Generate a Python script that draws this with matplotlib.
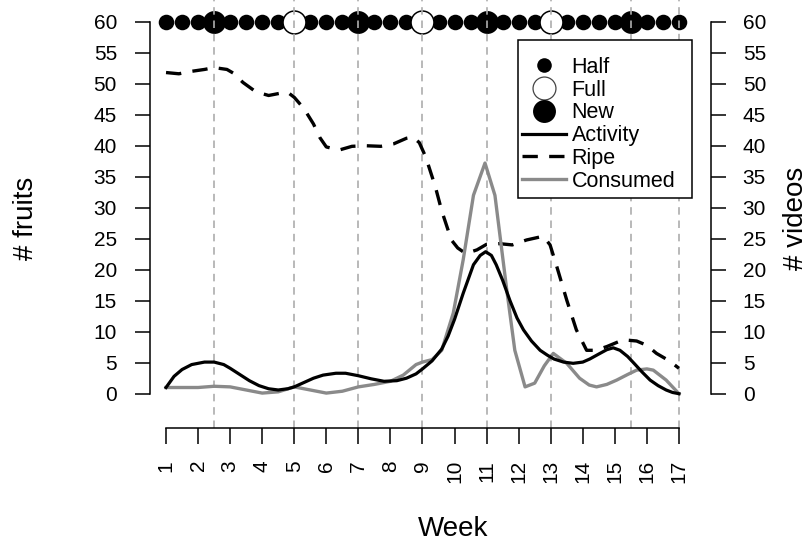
import matplotlib
matplotlib.use("Agg")
import matplotlib.pyplot as plt
from matplotlib.lines import Line2D
from matplotlib.patches import Rectangle

plt.rcParams['font.family'] = ['Liberation Sans', 'DejaVu Sans']

# ---------------- data ----------------
week_ticks = list(range(1, 18))
week_labels = [str(w) for w in week_ticks]
y_ticks = list(range(0, 61, 5))

# moon phases (drawn along the top at y = 60)
half_x = [1, 1.5, 2, 3, 3.5, 4, 4.5, 5.5, 6, 6.5, 7.5, 8, 8.5, 9.5, 10, 10.5,
          11.5, 12, 12.5, 13.5, 14, 14.5, 15, 16, 16.5, 17]
full_x = [5, 9, 13]
new_x = [2.5, 7, 11, 15.5]
moon_y = 60
phase_lines_x = [2.5, 5, 7, 9, 11, 13, 15.5, 17]

activity_x = [1.0, 1.25, 1.5, 1.8, 2.2, 2.5, 2.8, 3.0, 3.3, 3.6, 3.9, 4.2, 4.5, 4.8,
              5.0, 5.3, 5.6, 5.9, 6.3, 6.6, 7.0, 7.4, 7.8, 8.2, 8.5, 8.8, 9.0, 9.3,
              9.6, 9.8, 10.0, 10.27, 10.59, 10.8, 10.97, 11.15, 11.3, 11.5, 11.73,
              11.95, 12.15, 12.4, 12.67, 12.9, 13.1, 13.4, 13.7, 14.0, 14.22, 14.5,
              14.75, 14.95, 15.16, 15.4, 15.6, 15.85, 16.1, 16.35, 16.6, 16.8, 17.0]
activity_y = [1.0, 2.8, 3.9, 4.7, 5.1, 5.1, 4.7, 4.1, 3.1, 2.1, 1.3, 0.8, 0.6, 0.8,
              1.1, 1.8, 2.5, 3.0, 3.3, 3.3, 2.9, 2.4, 2.0, 2.1, 2.5, 3.2, 4.0, 5.3,
              7.2, 9.3, 12.0, 16.2, 20.8, 22.3, 22.9, 22.3, 20.8, 18.3, 15.0,
              12.2, 10.3, 8.5, 7.0, 6.2, 5.6, 5.1, 4.9, 5.1, 5.6, 6.4,
              7.1, 7.4, 7.0, 6.0, 4.9, 3.5, 2.2, 1.3, 0.6, 0.2, 0.0]

ripe_x = [1.0, 1.4, 1.8, 2.2, 2.5, 2.9, 3.1, 3.4, 3.8, 4.2, 4.6, 4.8, 5.0, 5.3, 5.6,
          5.8, 6.0, 6.4, 6.8, 7.2, 7.7, 8.1, 8.5, 8.7, 8.9, 9.1, 9.4, 9.6, 9.9, 10.1,
          10.35, 10.7, 11.0, 11.4, 11.8, 12.25, 12.77, 12.98, 13.19, 13.5, 13.8,
          14.12, 14.4, 14.75, 15.26, 15.68, 16.0, 16.3, 16.7, 17.0]
ripe_y = [51.8, 51.6, 52.0, 52.3, 52.6, 52.3, 51.7, 50.2, 48.7, 48.1, 48.5, 48.6, 47.8,
          46.0, 43.5, 41.3, 39.8, 39.3, 39.9, 40.0, 39.9, 40.3, 41.2, 41.4, 40.5, 38.2,
          33.4, 29.5, 24.8, 23.5, 22.6, 23.2, 24.1, 24.2, 24.0, 24.8, 25.4, 24.0,
          20.5, 15.1, 10.3, 7.0, 7.0, 7.6, 8.7, 8.5, 7.8, 6.5, 5.3, 4.1]

consumed_x = [1.0, 1.5, 2.0, 2.5, 3.0, 3.5, 4.0, 4.5, 5.0, 5.5, 6.0, 6.5, 7.0, 7.5, 8.0,
              8.4, 8.8, 9.0, 9.3, 9.6, 9.96, 10.27, 10.59, 10.95, 11.26, 11.63, 11.88,
              12.2, 12.5, 12.8, 13.08, 13.5, 13.9, 14.2, 14.43, 14.75, 15.06, 15.4,
              15.68, 16.0, 16.2, 16.6, 17.0]
consumed_y = [1.0, 1.0, 1.0, 1.2, 1.1, 0.6, 0.1, 0.3, 1.1, 0.6, 0.1, 0.4, 1.1, 1.5, 2.0,
              3.0, 4.7, 5.1, 5.5, 7.0, 13.0, 21.6, 32.0, 37.2, 32.0, 16.7, 7.0,
              1.1, 1.7, 4.5, 6.5, 4.9, 2.5, 1.4, 1.1, 1.5, 2.2, 3.1,
              3.8, 4.0, 3.8, 2.2, 0.0]

# ---------------- figure ----------------
W, H = 811, 544
fig = plt.figure(figsize=(W / 100, H / 100), dpi=100)

ax_left, ax_right, ax_top, ax_bottom = 150, 711, 0, 428.3
ax = fig.add_axes([ax_left / W, 1 - ax_bottom / H, (ax_right - ax_left) / W, (ax_bottom - ax_top) / H])
ax.set_xlim(0.5, 18)
ax.set_ylim(-5.58, 63.5)
ax.patch.set_alpha(0)

grey_line = '#8a8a8a'
vline_col = '#adadad'

# moon markers
ax.plot(half_x, [moon_y] * len(half_x), 'o', color='black', ms=11.2, mew=0,
        clip_on=False, zorder=2)
ax.plot(new_x, [moon_y] * len(new_x), 'o', color='black', ms=16.5, mew=0,
        clip_on=False, zorder=2.2)
ax.plot(full_x, [moon_y] * len(full_x), 'o', mfc='white', mec='black', ms=16.5,
        mew=1.1, clip_on=False, zorder=2.2)

for xv in phase_lines_x:
    ax.axvline(xv, ymin=0, ymax=1, color=vline_col, lw=1.2, dashes=(4.5, 3.5),
               zorder=2.5, clip_on=False)

# series
ax.plot(ripe_x, ripe_y, color='black', lw=2.4, dashes=(4.6, 3.4), zorder=3)
ax.plot(consumed_x, consumed_y, color=grey_line, lw=2.4, zorder=3.1)
ax.plot(activity_x, activity_y, color='black', lw=2.3, zorder=3.2)

# axes styling
for s in ['top', 'right']:
    ax.spines[s].set_visible(False)
ax.spines['left'].set_bounds(0, 60)
ax.spines['bottom'].set_bounds(1, 17)
ax.spines['left'].set_linewidth(1.1)
ax.spines['bottom'].set_linewidth(1.1)
ax.set_xticks(week_ticks)
ax.set_xticklabels(week_labels, rotation=90)
ax.set_yticks(y_ticks)
ax.set_yticklabels([str(v) for v in y_ticks])
ax.tick_params(axis='x', length=11.8, width=1.1, pad=11.0, labelsize=15)
ax.tick_params(axis='y', length=10.8, width=1.1, pad=13, labelsize=15)

ax2 = ax.twinx()
ax2.set_ylim(ax.get_ylim())
for s in ['top', 'left', 'bottom']:
    ax2.spines[s].set_visible(False)
ax2.spines['right'].set_bounds(0, 60)
ax2.spines['right'].set_linewidth(1.1)
ax2.set_yticks(y_ticks)
ax2.set_yticklabels([str(v) for v in y_ticks])
ax2.tick_params(axis='y', length=10.8, width=1.1, pad=12, labelsize=15)

# axis titles
fig.text(26 / W, 1 - 218 / H, '# fruits', rotation=90, ha='center', va='center', fontsize=20)
fig.text(796 / W, 1 - 218 / H, '# videos', rotation=90, ha='center', va='center', fontsize=20)
fig.text(453 / W, 1 - 536 / H, 'Week', ha='center', va='baseline', fontsize=20)

# legend frame + legend
fig.add_artist(Rectangle((518 / W, 1 - 198 / H), (692 - 518) / W, (198 - 40) / H,
                         transform=fig.transFigure, facecolor='white',
                         edgecolor='black', lw=1.1, zorder=4))
handles = [
    Line2D([], [], ls='none', marker='o', color='black', ms=10.5, mew=0),
    Line2D([], [], ls='none', marker='o', mfc='white', mec='#444444', ms=16.5, mew=0.9),
    Line2D([], [], ls='none', marker='o', color='black', ms=16.5, mew=0),
    Line2D([], [], color='black', lw=2.3),
    Line2D([], [], color='black', lw=2.4, dashes=(4.6, 3.4)),
    Line2D([], [], color=grey_line, lw=2.4),
]
labels = ['Half', 'Full', 'New', 'Activity', 'Ripe', 'Consumed']
leg = fig.legend(handles, labels, loc='upper left',
                 bbox_to_anchor=(522 / W, 1 - 57 / H), frameon=False,
                 fontsize=15.5, handlelength=2.05, handletextpad=0.25,
                 labelspacing=0.08, borderpad=0, borderaxespad=0)
leg.set_zorder(5)

fig.savefig('out.png', dpi=100)
